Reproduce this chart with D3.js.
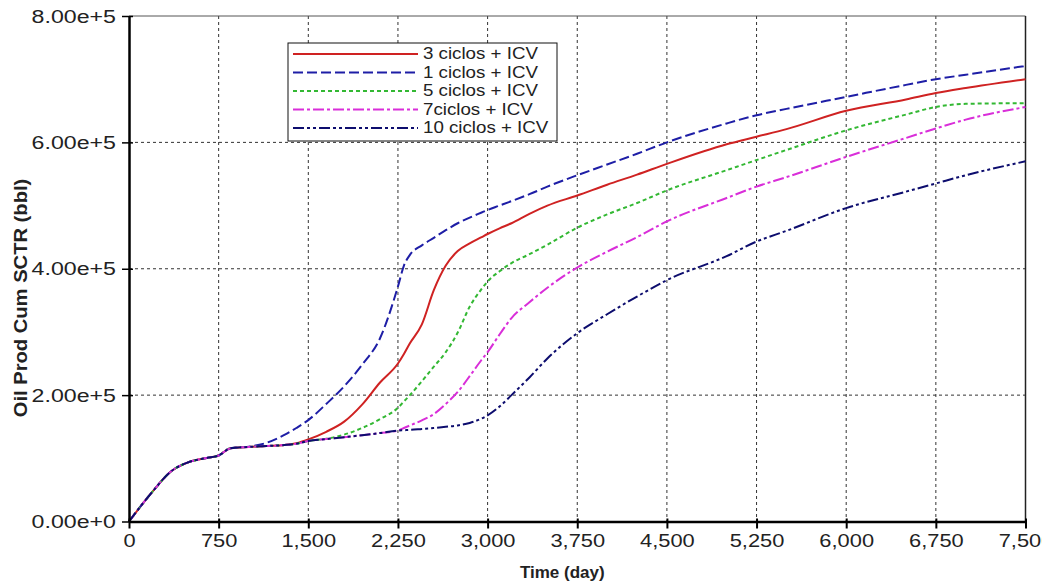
<!DOCTYPE html>
<html>
<head>
<meta charset="utf-8">
<script src="https://cdn.jsdelivr.net/npm/d3@7"></script>
<style>
  html, body { margin: 0; padding: 0; background: #fff; }
  svg { display: block; }
  text { font-family: "Liberation Sans", Arial, sans-serif; fill: #222; }
</style>
</head>
<body>
<svg id="chart" width="1042" height="583"></svg>
<script>
// ---- data ----
const times = [0, 200, 350, 500, 650, 750, 850, 1000, 1150, 1300, 1400, 1500, 1650, 1800, 1950, 2100, 2250, 2300,
  2350, 2450, 2550, 2650, 2750, 2850, 2950, 3000, 3100, 3200, 3350, 3500, 3750, 4000, 4250, 4500,
  5000, 5250, 5500, 6000, 6500, 6750, 7000, 7500];

const seriesNames = ["3 ciclos + ICV", "1 ciclos + ICV", "5 ciclos + ICV", "7ciclos + ICV", "10 ciclos + ICV"];

const ciclos3 = [0, 48000, 79000, 94000, 100500, 104500, 116000, 118000, 119500, 121000, 124000, 130000, 142000, 158000, 185000, 220000, 250000, 265000,
  282000, 312000, 366000, 405000, 428000, 440000, 450000, 455000, 464000, 472000, 487000, 500000, 516000, 533000, 549000, 566000,
  597000, 609000, 621000, 650000, 668000, 678000, 686000, 700000];

const ciclos1 = [0, 48000, 79000, 94000, 100500, 104500, 116000, 118500, 124500, 137000, 148000, 160500, 186000, 214000, 248000, 290000, 372000, 405000,
  422000, 437000, 449000, 461000, 472000, 481000, 489000, 493000, 500000, 507000, 518000, 530000, 548000, 565000, 582000, 600000,
  630000, 643000, 653000, 672000, 691000, 700000, 707000, 721000];

const ciclos5 = [0, 48000, 79000, 94000, 100500, 104500, 116000, 118000, 119500, 121000, 123000, 127500, 131000, 137500, 148000, 162000, 180000, 190000,
  200000, 222000, 245000, 268000, 299000, 340000, 368000, 380000, 396000, 409000, 423000, 438000, 465000, 486000, 504000, 524000,
  556000, 572000, 588000, 619000, 644000, 656000, 661000, 662000];

const ciclos7 = [0, 48000, 79000, 94000, 100500, 104500, 116000, 118000, 119500, 121000, 123000, 127500, 130500, 133500, 136500, 140000, 144000, 148000,
  152000, 160000, 170000, 186000, 205000, 230000, 256000, 268000, 296000, 322000, 347000, 370000, 402000, 427000, 450000, 475000,
  512000, 530000, 545000, 577000, 607000, 622000, 636000, 656000];

const ciclos10 = [0, 48000, 79000, 94000, 100500, 104500, 116000, 118000, 119500, 121000, 123000, 127500, 130500, 133500, 136500, 140000, 144000, 144500,
  145000, 146500, 148000, 150000, 152000, 156000, 163000, 168000, 182000, 200000, 228000, 258000, 298000, 328000, 356000, 382000,
  420000, 443000, 460000, 496000, 522000, 535000, 548000, 570000];

const xTicks = [0, 750, 1500, 2250, 3000, 3750, 4500, 5250, 6000, 6750, 7500];
const yTicks = [0, 200000, 400000, 600000, 800000];
const yTickLabels = ["0.00e+0", "2.00e+5", "4.00e+5", "6.00e+5", "8.00e+5"];

// ---- styles ----
const seriesValues = [ciclos3, ciclos1, ciclos5, ciclos7, ciclos10];
const colors = ["#cf2222", "#1e1ea6", "#33b833", "#d92ed9", "#0d0d6e"];
const dashes = [null, "10,4", "4,3", "11,3,3,3", "11,3,3,3,3,3"];

// ---- layout ----
const L = 129, R = 1025.5, T = 16, B = 521.5;
const svg = d3.select("#chart");
const x = d3.scaleLinear().domain([0, 7500]).range([L, R]);
const y = d3.scaleLinear().domain([0, 800000]).range([B, T]);

// grid
const grid = svg.append("g");
grid.selectAll("line.vg").data(xTicks.slice(1, -1)).enter().append("line")
  .attr("x1", d => x(d)).attr("x2", d => x(d)).attr("y1", T).attr("y2", B)
  .attr("stroke", "#333").attr("stroke-width", 1).attr("stroke-dasharray", "3,3");
grid.selectAll("line.hg").data(yTicks.slice(1, -1)).enter().append("line")
  .attr("x1", L).attr("x2", R).attr("y1", d => y(d)).attr("y2", d => y(d))
  .attr("stroke", "#333").attr("stroke-width", 1).attr("stroke-dasharray", "3,3");

// frame top & right
svg.append("line").attr("x1", L).attr("x2", R).attr("y1", T).attr("y2", T).attr("stroke", "#555").attr("stroke-width", 1);
svg.append("line").attr("x1", R).attr("x2", R).attr("y1", T).attr("y2", B).attr("stroke", "#222").attr("stroke-width", 1.5);

// lines
const line = d3.line().x(d => x(d[0])).y(d => y(d[1])).curve(d3.curveMonotoneX);
seriesValues.forEach((vals, i) => {
  const pts = times.map((t, j) => [t, vals[j]]);
  svg.append("path").datum(pts).attr("d", line)
    .attr("fill", "none").attr("stroke", colors[i]).attr("stroke-width", 2)
    .attr("stroke-dasharray", dashes[i]);
});

// axes
const xAxis = d3.axisBottom(x).tickValues(xTicks).tickSize(7).tickSizeOuter(0)
  .tickFormat(d3.format(","));
const gx = svg.append("g").attr("transform", `translate(0,${B})`).call(xAxis);
gx.select(".domain").attr("stroke", "#000").attr("stroke-width", 2.5);
gx.selectAll(".tick line").attr("stroke", "#000").attr("stroke-width", 2).attr("y1", -3);
gx.selectAll(".tick text").attr("font-size", 19).attr("fill", "#222")
  .attr("font-family", "Liberation Sans, Arial, sans-serif").attr("dy", "0.71em").attr("y", 12)
  .attr("transform", "scale(1.15,1)");

const yAxis = d3.axisLeft(y).tickValues(yTicks).tickSize(7).tickSizeOuter(0)
  .tickFormat((d, i) => yTickLabels[i]);
const gy = svg.append("g").attr("transform", `translate(${L},0)`).call(yAxis);
gy.select(".domain").attr("stroke", "#000").attr("stroke-width", 2.5);
gy.selectAll(".tick line").attr("stroke", "#000").attr("stroke-width", 1.5).attr("x2", 4).attr("x1", -7);
gy.selectAll(".tick text").attr("font-size", 19).attr("fill", "#222")
  .attr("font-family", "Liberation Sans, Arial, sans-serif").attr("x", -13 / 1.22)
  .attr("transform", "scale(1.22,1)");

// axis titles
svg.append("text").attr("x", (L + R) / 2 - 15).attr("y", 578).attr("text-anchor", "middle")
  .attr("font-size", 17).attr("font-weight", "bold").attr("fill", "#111").text("Time (day)");
svg.append("text").attr("transform", "translate(27,298) rotate(-90) scale(1.12,1)")
  .attr("text-anchor", "middle").attr("font-size", 18).attr("font-weight", "bold").attr("fill", "#111")
  .text("Oil Prod Cum SCTR (bbl)");

// legend
const lg = svg.append("g");
lg.append("rect").attr("x", 288).attr("y", 43).attr("width", 269).attr("height", 98)
  .attr("fill", "#fff").attr("stroke", "#111").attr("stroke-width", 1);
const rowY = [54, 72.5, 91, 109.5, 128];
seriesNames.forEach((name, i) => {
  lg.append("line").attr("x1", 293).attr("x2", 418).attr("y1", rowY[i]).attr("y2", rowY[i])
    .attr("stroke", colors[i]).attr("stroke-width", 2).attr("stroke-dasharray", dashes[i]);
  lg.append("text").attr("transform", `translate(423,${rowY[i]}) scale(1.2,1)`).attr("dy", "0.35em")
    .attr("font-size", 15.6).attr("fill", "#222").text(name);
});
</script>
</body>
</html>
